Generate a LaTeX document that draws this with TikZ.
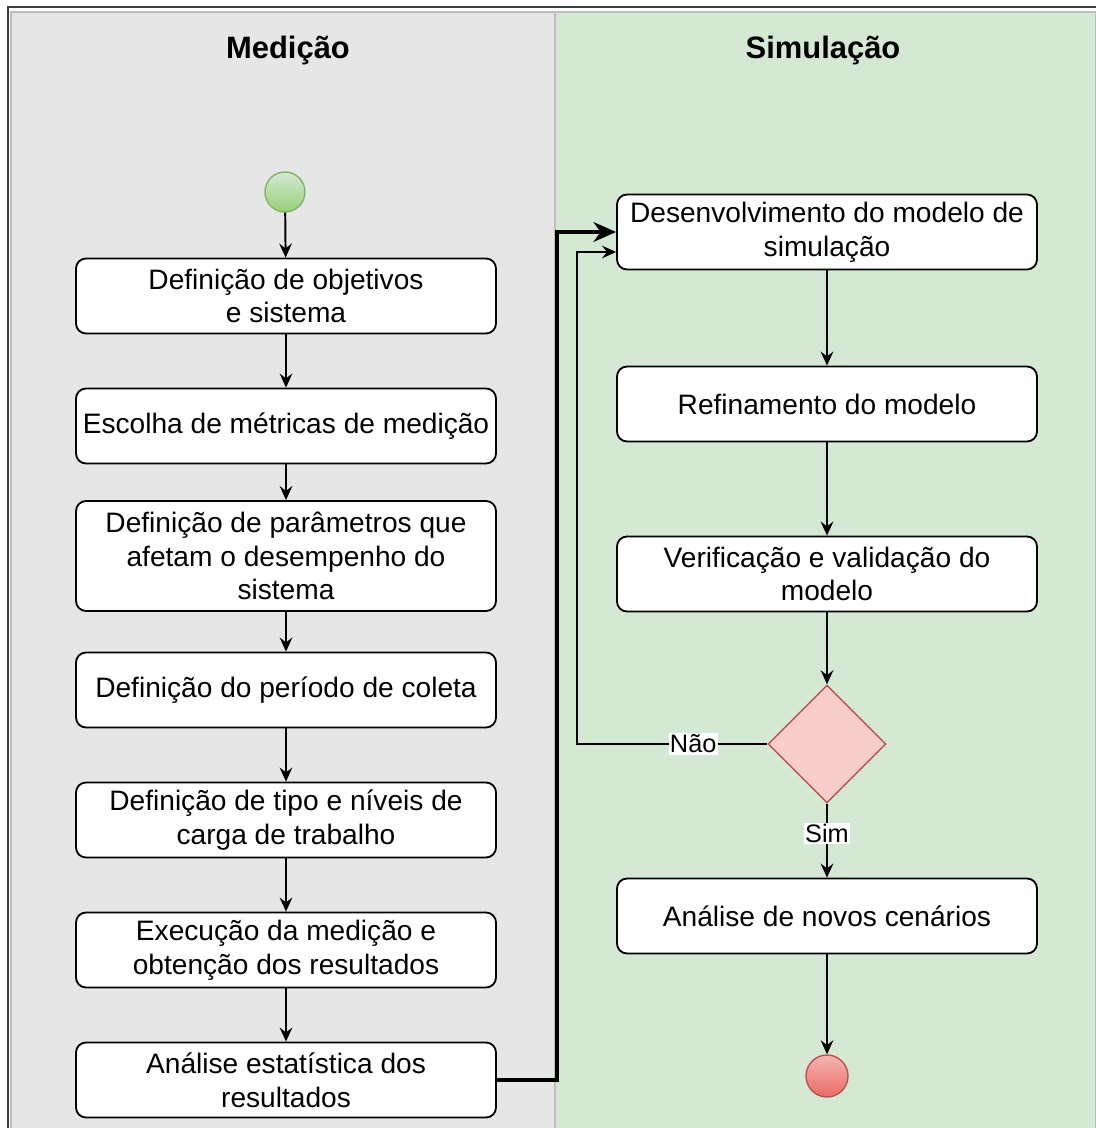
\documentclass[tikz,border=0pt]{standalone}
\usepackage{fontspec}
\setmainfont{Liberation Sans}
\usetikzlibrary{shapes.geometric, arrows.meta, positioning, calc}
\definecolor{lanegray}{RGB}{230,230,230}
\definecolor{lanegreen}{RGB}{213,232,212}
\definecolor{laneline}{RGB}{190,190,190}
\definecolor{frameline}{RGB}{60,60,60}
\definecolor{decfill}{RGB}{248,206,204}
\definecolor{decline}{RGB}{184,84,80}
\definecolor{startline}{RGB}{130,179,102}
\definecolor{starttop}{RGB}{213,232,212}
\definecolor{startbot}{RGB}{151,208,119}
\definecolor{endtop}{RGB}{246,180,178}
\definecolor{endbot}{RGB}{234,107,102}
\tikzset{
  stepbox/.style={rectangle, rounded corners=0.25cm, draw=black, line width=1.3pt,
                  fill=white, align=center, minimum width=10.5cm,
                  minimum height=1.875cm, inner sep=2pt,
                  font=\fontsize{20}{24}\selectfont},
  decision/.style={diamond, draw=decline, line width=1pt, fill=decfill,
                   aspect=1, minimum size=2.95cm, inner sep=0pt},
  lanetitle/.style={font=\fontsize{22}{26}\selectfont\bfseries},
  flow/.style={-{Stealth[length=10pt, width=9pt, inset=3.5pt]}, line width=1.4pt},
  bigflow/.style={-{Stealth[length=16pt, width=14pt, inset=5pt]}, line width=2.8pt},
  condlabel/.style={fill=white, inner sep=1pt, font=\fontsize{18}{20}\selectfont},
}

\begin{document}
\begin{tikzpicture}
        \useasboundingbox (0,0) rectangle (27.4,-28.2);
        \clip (0,0) rectangle (27.4,-28.2);

        % Outer frame and swimlanes
        \draw[frameline, line width=1.6pt] (0.2,-0.175) rectangle (27.45,-28.6);
        \draw[laneline, line width=0.8pt, fill=lanegray] (0.275,-0.3) rectangle (13.875,-28.5);
        \draw[laneline, line width=0.8pt, fill=lanegreen] (13.875,-0.3) rectangle (27.38,-28.5);
        \node[lanetitle] (tmed) at (7.2,-1.275) {Medição};
        \node[lanetitle] (tsim) at (20.575,-1.275) {Simulação};

        % Measurement lane
        \node[circle, draw=startline, line width=1pt, top color=starttop,
              bottom color=startbot, minimum size=1cm, inner sep=0pt]
              (start) at (7.125,-4.8) {};
        \node[stepbox] (obj) at (7.15,-7.4) {Definição de objetivos\\e sistema};
        \node[stepbox] (met) at (7.15,-10.65) {Escolha de métricas de medição};
        \node[stepbox, minimum height=2.75cm] (par) at (7.15,-13.9)
              {Definição de parâmetros que\\afetam o desempenho do\\sistema};
        \node[stepbox] (per) at (7.15,-17.25) {Definição do período de coleta};
        \node[stepbox] (car) at (7.15,-20.5) {Definição de tipo e níveis de\\carga de trabalho};
        \node[stepbox] (exe) at (7.15,-23.75) {Execução da medição e\\obtenção dos resultados};
        \node[stepbox] (est) at (7.15,-27.0) {Análise estatística dos\\resultados};

        % Simulation lane
        \node[stepbox] (dev) at (20.675,-5.8) {Desenvolvimento do modelo de\\simulação};
        \node[stepbox] (ref) at (20.675,-10.1) {Refinamento do modelo};
        \node[stepbox] (ver) at (20.675,-14.35) {Verificação e validação do\\modelo};
        \node[decision] (dec) at (20.675,-18.6) {};
        \node[stepbox] (cen) at (20.675,-22.9) {Análise de novos cenários};
        \node[circle, draw=decline, line width=1pt, top color=endtop,
              bottom color=endbot, minimum size=1.05cm, inner sep=0pt]
              (stop) at (20.675,-26.9) {};

        % Measurement flow
        \draw[flow] (start) -- (obj);
        \draw[flow] (obj) -- (met);
        \draw[flow] (met) -- (par);
        \draw[flow] (par) -- (per);
        \draw[flow] (per) -- (car);
        \draw[flow] (car) -- (exe);
        \draw[flow] (exe) -- (est);

        % Hand-over to simulation
        \draw[bigflow] (est.east) -- ++(1.5,0) |- (dev.west);

        % Simulation flow
        \draw[flow] (dev) -- (ref);
        \draw[flow] (ref) -- (ver);
        \draw[flow] (ver) -- (dec);
        \draw[flow] (dec.west) -- node[condlabel, pos=0.39] {Não} ++(-4.75,0)
              |- ([yshift=-0.5cm]dev.west);
        \draw[flow] (dec.south) -- node[condlabel, pos=0.4] {Sim} (cen.north);
        \draw[flow] (cen) -- (stop);
      \end{tikzpicture}
\end{document}
